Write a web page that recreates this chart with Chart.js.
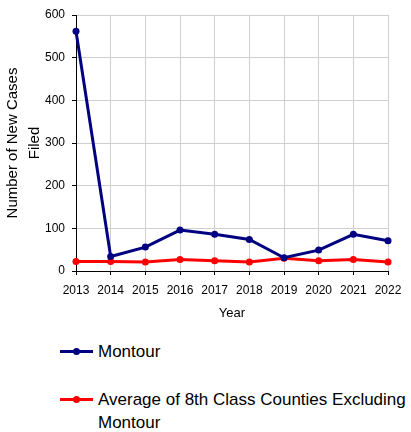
<!DOCTYPE html>
<html>
<head>
<meta charset="utf-8">
<script src="https://cdn.jsdelivr.net/npm/chart.js"></script>
<style>
  body { margin: 0; background: #fff; font-family: "Liberation Sans", Arial, sans-serif; }
  #wrap { position: relative; width: 411px; height: 432px; }
  #box { position: absolute; left: 0; top: 0; width: 411px; height: 325px; }
  #legend { position: absolute; left: 60px; top: 340px; width: 350px; }
  .item { position: relative; padding-left: 38px; font-size: 17px; line-height: 23px; color: #000; }
  .item + .item { margin-top: 25px; }
  .mark { position: absolute; left: 0; top: 10px; width: 33px; height: 3px; }
  .dot { position: absolute; left: 13px; top: -2px; width: 7px; height: 7px; border-radius: 50%; }
</style>
</head>
<body>
<div id="wrap">
  <div id="box"><canvas id="chart"></canvas></div>
  <div id="legend"></div>
</div>
<script>
const years = ["2013", "2014", "2015", "2016", "2017", "2018", "2019", "2020", "2021", "2022"];
const montour = [562, 34, 56, 96, 86, 74, 31, 49, 86, 71];
const average = [22, 22, 21, 27, 24, 21, 30, 24, 27, 21];
const yTicks = [0, 100, 200, 300, 400, 500, 600];

const ctx = document.getElementById("chart");

Chart.defaults.font.family = "'Liberation Sans', Arial, sans-serif";
Chart.defaults.color = "#000";

const data = {
    labels: years,
    datasets: [
        {
            label: "Montour",
            data: montour,
            borderColor: "#000080",
            backgroundColor: "#000080",
        },
        {
            label: "Average of 8th Class Counties Excluding Montour",
            data: average,
            borderColor: "#ff0000",
            backgroundColor: "#ff0000",
        },
    ],
};

const config = {
    type: "line",
    data: data,
    options: {
        responsive: true,
        maintainAspectRatio: false,
        animation: false,
        layout: {
            padding: { top: 15, right: 23, left: 0, bottom: 0 },
        },
        elements: {
            line: { borderWidth: 3, tension: 0 },
            point: { radius: 3.5, borderWidth: 0 },
        },
        scales: {
            x: {
                offset: false,
                grid: {
                    color: "#cfcfcf",
                    tickColor: "#000",
                    tickLength: 4,
                },
                border: { color: "#000", width: 1 },
                ticks: {
                    font: { size: 12 },
                    padding: 8,
                    maxRotation: 0,
                    autoSkip: false,
                },
                title: {
                    display: true,
                    text: "Year",
                    font: { size: 13 },
                    padding: { top: 0, bottom: 4 },
                },
                afterFit: (scale) => { scale.height = 54; },
            },
            y: {
                min: 0,
                max: 600,
                afterBuildTicks: (scale) => {
                    scale.ticks = yTicks.map((v) => ({ value: v }));
                },
                grid: {
                    color: "#cfcfcf",
                    tickColor: "#000",
                    tickLength: 4,
                },
                border: { color: "#000", width: 1 },
                ticks: {
                    font: { size: 12 },
                    padding: 7,
                },
                title: {
                    display: true,
                    text: ["Number of New Cases", "Filed"],
                    font: { size: 15, lineHeight: 1.45 },
                    padding: { top: 2, bottom: 0 },
                },
                afterFit: (scale) => { scale.width = 76; },
            },
        },
        plugins: {
            legend: { display: false },
            tooltip: { enabled: false },
        },
    },
};

const chart = new Chart(ctx, config);

// legend below the chart, built from the datasets
const legend = document.getElementById("legend");
chart.data.datasets.forEach((ds) => {
    const item = document.createElement("div");
    item.className = "item";
    const mark = document.createElement("span");
    mark.className = "mark";
    mark.style.background = ds.borderColor;
    const dot = document.createElement("span");
    dot.className = "dot";
    dot.style.background = ds.borderColor;
    mark.appendChild(dot);
    item.appendChild(mark);
    item.appendChild(document.createTextNode(ds.label));
    legend.appendChild(item);
});
</script>
</body>
</html>
